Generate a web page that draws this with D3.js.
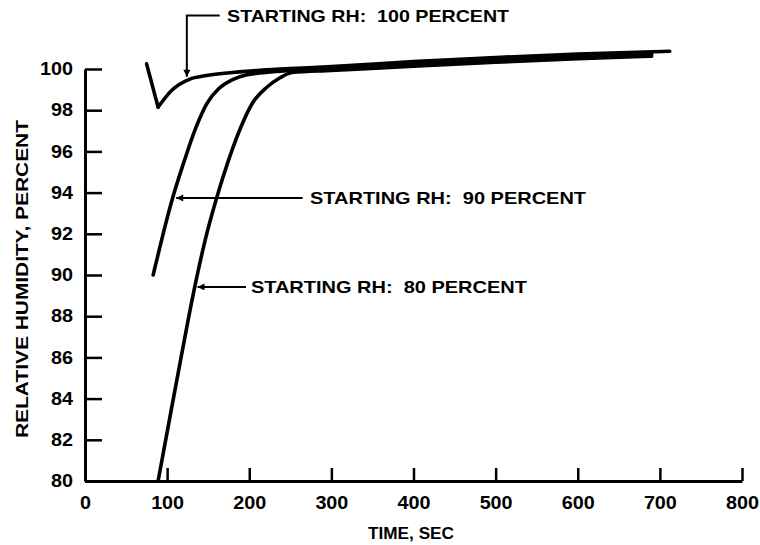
<!DOCTYPE html>
<html><head><meta charset="utf-8">
<script src="https://cdn.jsdelivr.net/npm/d3@7"></script>
<style>
body{margin:0;background:#fff;}
text{font-family:"Liberation Sans",Arial,Helvetica,sans-serif;font-weight:bold;fill:#000;white-space:pre;}
</style></head><body>
<svg id="c" width="760" height="545"></svg>
<script>
// ---- data ----
const xTicks = [0,100,200,300,400,500,600,700,800];
const yTicks = [80,82,84,86,88,90,92,94,96,98,100];
const xLabel = "TIME, SEC";
const yLabel = "RELATIVE HUMIDITY, PERCENT";

const rh100T = [75, 89, 106, 127, 148, 188, 250, 300, 400, 500, 600, 712];
const rh100V = [100.25, 98.15, 98.98, 99.5, 99.68, 99.86, 100.02, 100.12, 100.36, 100.56, 100.72, 100.86];

const rh90T = [83, 106, 121, 135, 148, 163, 179, 196, 250, 300, 400, 500, 600, 690];
const rh90V = [90.0, 93.64, 95.55, 97.15, 98.3, 99.05, 99.47, 99.71, 99.93, 100.03, 100.24, 100.43, 100.6, 100.72];

const rh80T = [89, 102, 117, 133, 147, 160, 175, 190, 204, 221, 237, 252, 300, 400, 500, 600, 690];
const rh80V = [80.0, 82.8, 86.0, 89.3, 91.8, 93.7, 95.6, 97.2, 98.35, 99.1, 99.56, 99.83, 99.93, 100.14, 100.33, 100.5, 100.62];

// annotations: label, arrow tip (t, rh), elbow, tail, text anchor (t, rh)
const annLabels = ["STARTING RH:  100 PERCENT", "STARTING RH:  90 PERCENT", "STARTING RH:  80 PERCENT"];
const annTip  = [[124, 99.62], [111, 93.74], [137, 89.42]];
const annElbow= [[124, 102.6], null, null];
const annTail = [[164, 102.6], [265, 93.74], [196, 89.42]];
const annText = [[173, 102.28], [274, 93.43], [202, 89.11]];

// ---- chart ----
const svg = d3.select("#c");
const x = d3.scaleLinear().domain([0, 800]).range([85, 742]);
const y = d3.scaleLinear().domain([80, 100]).range([481, 69]);

svg.append("defs").append("marker")
  .attr("id","ah").attr("viewBox","0 0 10 10").attr("refX",10).attr("refY",5)
  .attr("markerWidth",10).attr("markerHeight",7).attr("markerUnits","userSpaceOnUse")
  .attr("orient","auto")
  .append("path").attr("d","M0,0L10,5L0,10Z").attr("fill","#000");

// axes
const ya = svg.append("g").attr("transform",`translate(${x(0)},0)`)
  .call(d3.axisLeft(y).tickValues(yTicks).tickSizeInner(-17).tickSizeOuter(0).tickPadding(12));
const xa = svg.append("g").attr("transform",`translate(0,${y(80)})`)
  .call(d3.axisBottom(x).tickValues(xTicks).tickSizeInner(-13).tickSizeOuter(0).tickPadding(15));
[ya, xa].forEach(g => {
  g.selectAll("path.domain").attr("stroke","#000").attr("stroke-width",3);
  g.selectAll(".tick line").attr("stroke","#000").attr("stroke-width",2.5);
  g.selectAll(".tick text").style("font-size","18px").style("font-weight","bold")
   .style("font-family","'Liberation Sans',Arial,sans-serif").attr("fill","#000")
   .attr("textLength", d => String(d).length * 11).attr("lengthAdjust","spacingAndGlyphs");
});
xa.selectAll(".tick").filter(d => d === 0).select("line").remove();

svg.append("text").attr("x", 411).attr("y", 539).attr("text-anchor","middle")
  .style("font-size","17px").attr("textLength", 86).attr("lengthAdjust","spacingAndGlyphs").text(xLabel);
svg.append("text").attr("transform","translate(28,279) rotate(-90)").attr("text-anchor","middle")
  .style("font-size","17px").attr("textLength", 318).attr("lengthAdjust","spacingAndGlyphs").text(yLabel);

// curves
const line = d3.line().x(d => x(d[0])).y(d => y(d[1])).curve(d3.curveMonotoneX);
const lineStraight = d3.line().x(d => x(d[0])).y(d => y(d[1]));
function drawPath(gen, pts) {
  svg.append("path").datum(pts)
    .attr("d", gen).attr("fill","none").attr("stroke","#000")
    .attr("stroke-width",3.6).attr("stroke-linecap","round").attr("stroke-linejoin","round");
}
const p100 = rh100T.map((t,i)=>[t, rh100V[i]]);
drawPath(lineStraight, p100.slice(0, 2));   // sharp V at the dip
drawPath(line, p100.slice(1));
drawPath(line, rh90T.map((t,i)=>[t, rh90V[i]]));
drawPath(line, rh80T.map((t,i)=>[t, rh80V[i]]));

// annotations
const annWidths = [282, 276, 276];
annLabels.forEach((lab, i) => {
  const pts = [annTail[i]];
  if (annElbow[i]) pts.push(annElbow[i]);
  pts.push(annTip[i]);
  svg.append("path")
    .attr("d", lineStraight(pts))
    .attr("fill","none").attr("stroke","#000").attr("stroke-width",2)
    .attr("marker-end","url(#ah)");
  svg.append("text").attr("x", x(annText[i][0])).attr("y", y(annText[i][1]))
    .style("font-size","17px").attr("textLength", annWidths[i]).attr("lengthAdjust","spacingAndGlyphs")
    .text(lab);
});
</script>
</body></html>
